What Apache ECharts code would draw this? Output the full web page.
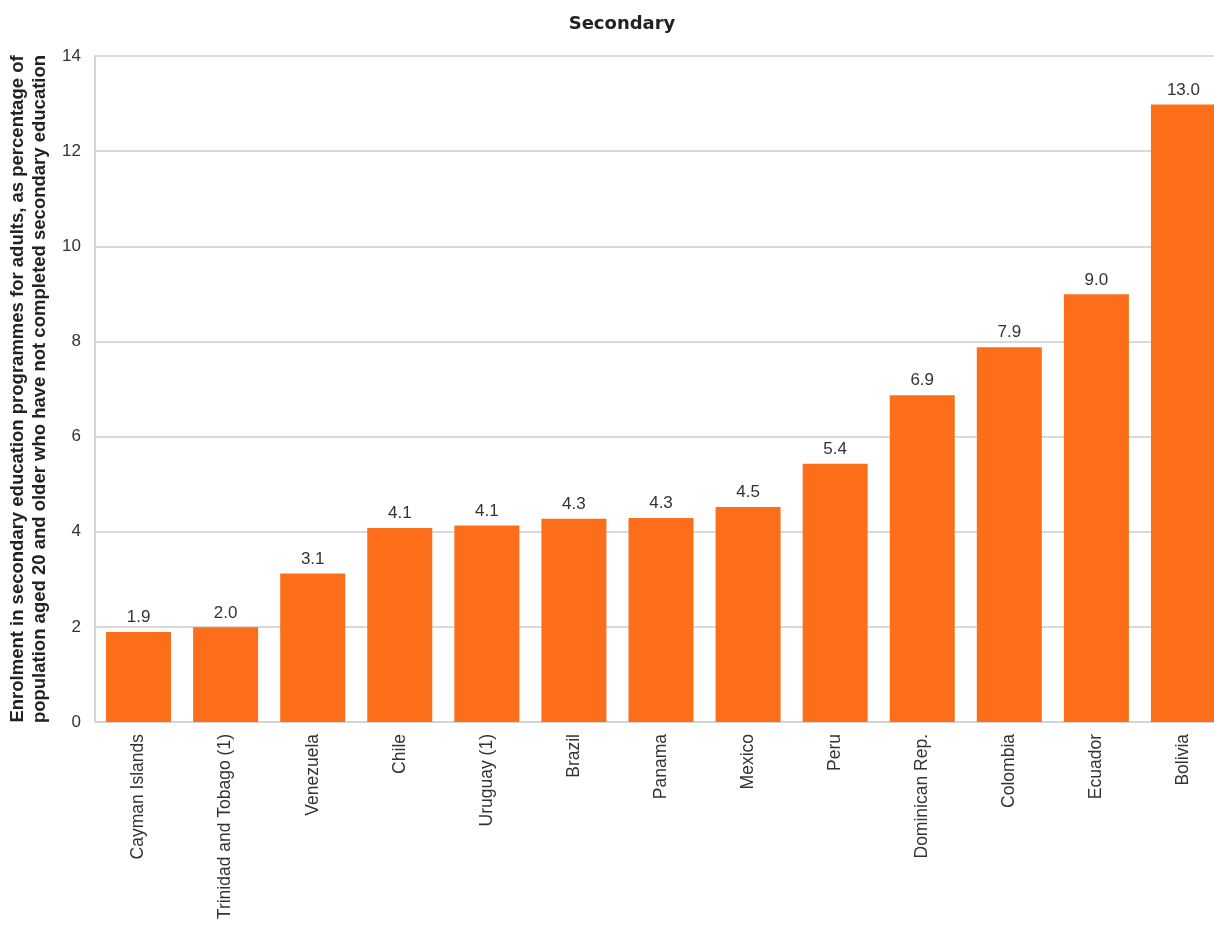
<!DOCTYPE html>
<html><head><meta charset="utf-8">
<script src="https://cdn.jsdelivr.net/npm/echarts@6/dist/echarts.min.js"></script>
<style>html,body{margin:0;padding:0;background:#fff;}#c{width:1214px;height:928px;}</style>
</head><body><div id="c"></div>
<script>
const categories = ["Cayman Islands","Trinidad and Tobago (1)","Venezuela","Chile","Uruguay (1)","Brazil","Panama","Mexico","Peru","Dominican Rep.","Colombia","Ecuador","Bolivia"];
const values = [1.89, 1.99, 3.12, 4.08, 4.13, 4.27, 4.29, 4.52, 5.43, 6.87, 7.88, 8.99, 12.98];
const yTicks = {min: 0, max: 14, interval: 2};
const titleText = "Secondary";
const yAxisName = "Enrolment in secondary education programmes for adults, as percentage of\npopulation aged 20 and older who have not completed secondary education";

const chart = echarts.init(document.getElementById('c'), null, {renderer: 'canvas'});
chart.setOption({
  animation: false,
  textStyle: {fontFamily: 'Liberation Sans, Arial, sans-serif'},
  title: {text: titleText, left: 617, top: 10, textAlign: 'center',
    textStyle: {fontSize: 18, fontWeight: 'bold', color: '#222', fontFamily: 'DejaVu Sans'}},
  grid: {left: 95, right: -13, top: 56, bottom: 206, containLabel: false, outerBoundsMode: 'none'},
  xAxis: {
    type: 'category', data: categories,
    axisLine: {lineStyle: {color: '#d4d4d4', width: 2}},
    axisTick: {show: false},
    axisLabel: {rotate: 90, fontSize: 17.5, color: '#333', margin: 12, interval: 0}
  },
  yAxis: {
    type: 'value', min: yTicks.min, max: yTicks.max, interval: yTicks.interval,
    name: yAxisName, nameLocation: 'middle', nameGap: 42, nameRotate: 90,
    nameTextStyle: {fontSize: 18.5, fontWeight: 'bold', color: '#222', lineHeight: 22},
    axisLine: {show: true, lineStyle: {color: '#d4d4d4', width: 2}},
    axisTick: {show: false},
    axisLabel: {fontSize: 17, color: '#333', margin: 14},
    splitLine: {lineStyle: {color: '#d9d9d9', width: 2}}
  },
  series: [{
    type: 'bar', data: values, barWidth: 65,
    itemStyle: {color: '#fd6e1b'},
    label: {show: true, position: 'top', distance: 6, fontSize: 17, color: '#333',
      formatter: p => p.value.toFixed(1)}
  }]
});
</script></body></html>
